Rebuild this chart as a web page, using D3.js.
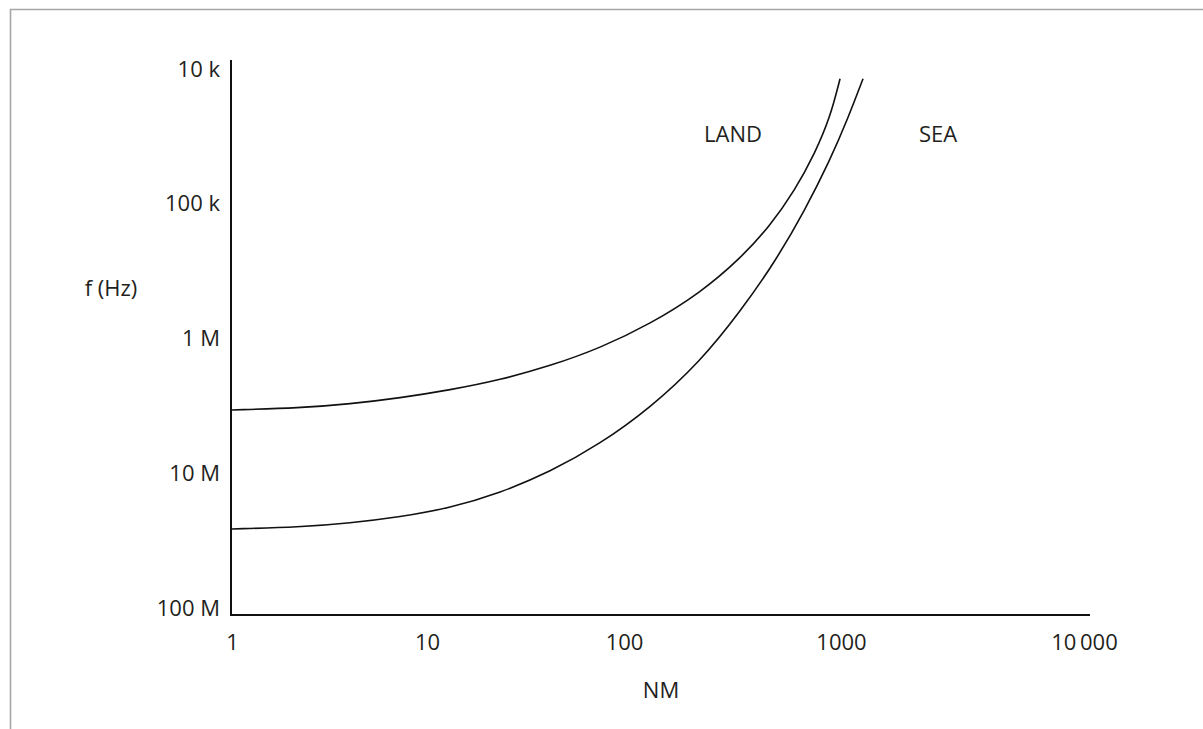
<!DOCTYPE html>
<html>
<head>
<meta charset="utf-8">
<script src="https://cdn.jsdelivr.net/npm/d3@7"></script>
<style>
  body { margin: 0; background: #fff; }
  svg { display: block; font-family: "Open Sans", "Noto Sans", sans-serif; }
</style>
</head>
<body>
<div class="chart"></div>
<script>
// distance in nautical miles (x) and frequency in Hz (y)
var xTicks = [1, 10, 100, 1000, 10000];
var xTickLabels = ["1", "10", "100", "1000", "10\u2009000"];
var yTicks = [1e4, 1e5, 1e6, 1e7, 1e8];
var yTickLabels = ["10 k", "100 k", "1 M", "10 M", "100 M"];

var landNM = [1, 2.23, 4.03, 7.27, 13.1, 23.5, 42.1, 75.5, 132, 224, 342, 471, 614, 759, 890, 990];
var landHz = [3.39e6, 3.28e6, 3.06e6, 2.76e6, 2.41e6, 2.03e6, 1.6e6, 1.18e6, 7.81e5, 4.6e5,
              2.57e5, 1.46e5, 7.91e4, 4.2e4, 2.3e4, 1.18e4];

var seaNM = [1, 2.23, 4.03, 7.27, 13.1, 23.5, 42.1, 75.5, 132, 224, 342, 496, 683, 890, 1069, 1232];
var seaHz = [2.59e7, 2.51e7, 2.34e7, 2.11e7, 1.81e7, 1.4e7, 9.79e6, 6.07e6, 3.28e6, 1.49e6,
             6.36e5, 2.71e5, 1.11e5, 4.74e4, 2.31e4, 1.18e4];

function init(){
  var w = 1203;
  var h = 729;

  var svg = d3.select(".chart")
              .append("svg")
              .attr("width", w)
              .attr("height", h);

  // page frame
  svg.append("path")
      .attr("d", "M10.5," + h + "V9.5H" + w)
      .attr("fill", "none")
      .attr("stroke", "#a6a6a6")
      .attr("stroke-width", 1.6);

  // hand drawn log axis: decades are not evenly spaced on x
  var x = d3.scaleLog()
            .domain(xTicks)
            .range([232, 427, 624, 841, 1084]);

  var y = d3.scaleLog()
            .domain([1e4, 1e8])
            .range([69, 608]);

  var x0 = 231, yBase = 615;

  svg.append("line")
      .attr("x1", x0).attr("x2", x0)
      .attr("y1", 60).attr("y2", yBase + 1)
      .attr("stroke", "#111").attr("stroke-width", 2);

  svg.append("line")
      .attr("x1", x0).attr("x2", 1090)
      .attr("y1", yBase).attr("y2", yBase)
      .attr("stroke", "#111").attr("stroke-width", 2);

  var yAxis = d3.axisLeft(y)
                .tickValues(yTicks)
                .tickSize(0)
                .tickPadding(11)
                .tickFormat(function(d, i){ return yTickLabels[i]; });

  var yG = svg.append("g")
      .attr("transform", "translate(" + x0 + ",0)")
      .call(yAxis);

  var xAxis = d3.axisBottom(x)
                .tickValues(xTicks)
                .tickSize(0)
                .tickPadding(19)
                .tickFormat(function(d, i){ return xTickLabels[i]; });

  var xG = svg.append("g")
      .attr("transform", "translate(0," + yBase + ")")
      .call(xAxis);

  [yG, xG].forEach(function(g){
    g.select(".domain").remove();
    g.selectAll("text")
      .style("font-size", "22px")
      .style("font-family", "\"Open Sans\", \"Noto Sans\", sans-serif")
      .attr("fill", "#231f20");
  });

  var line = d3.line()
               .x(function(d){ return x(d[0]); })
               .y(function(d){ return y(d[1]); })
               .curve(d3.curveBasis);

  var series = [d3.zip(landNM, landHz), d3.zip(seaNM, seaHz)];

  svg.append("g")
      .selectAll("path")
      .data(series)
      .join("path")
        .attr("d", line)
        .attr("fill", "none")
        .attr("stroke", "#111")
        .attr("stroke-width", 1.6);

  var labels = [
    {t: "LAND", x: 733, y: 134},
    {t: "SEA", x: 938, y: 134},
    {t: "f (Hz)", x: 111, y: 288},
    {t: "NM", x: 661, y: 690}
  ];

  svg.append("g")
      .selectAll("text")
      .data(labels)
      .join("text")
        .attr("x", function(d){ return d.x; })
        .attr("y", function(d){ return d.y; })
        .attr("dy", "0.35em")
        .attr("text-anchor", "middle")
        .attr("fill", "#231f20")
        .style("font-size", "22px")
        .text(function(d){ return d.t; });
}

window.onload = init;
</script>
</body>
</html>
